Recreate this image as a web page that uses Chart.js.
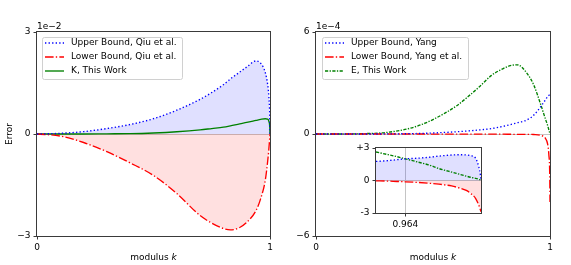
<!DOCTYPE html>
<html><head><meta charset="utf-8">
<script src="https://cdn.jsdelivr.net/npm/chart.js@4/dist/chart.umd.min.js"></script>
<style>
html,body{margin:0;padding:0;background:#fff;}
#wrap{position:relative;width:571px;height:265px;overflow:hidden;background:#fff;}
canvas{position:absolute;}
</style></head><body>
<div id="wrap">
<canvas id="cL" width="290" height="265" style="left:0;top:0;width:290px;height:265px"></canvas>
<canvas id="cR" width="281" height="265" style="left:290px;top:0;width:281px;height:265px"></canvas>
<canvas id="cI" width="165" height="100" style="left:330px;top:135px;width:165px;height:100px"></canvas>
</div>
<script>
// ---------- data (left panel, units of 1e-2) ----------
const kLeft      = [0, 0.1, 0.2, 0.3, 0.4, 0.5, 0.6, 0.7, 0.75, 0.8, 0.83, 0.87, 0.9, 0.94, 0.96, 0.98, 0.99, 0.995, 0.999, 1];
const upperQiu   = [0, 0.02, 0.07, 0.16, 0.28, 0.45, 0.70, 1.02, 1.22, 1.45, 1.62, 1.82, 1.97, 2.15, 2.08, 1.80, 1.45, 1.10, 0.50, 0];
const lowerQiu   = [0, -0.06, -0.25, -0.52, -0.85, -1.22, -1.75, -2.40, -2.62, -2.78, -2.82, -2.75, -2.60, -2.25, -1.90, -1.35, -0.80, -0.45, -0.10, 0];
const kThisWork  = [0, 0, 0, 0.005, 0.01, 0.03, 0.065, 0.12, 0.16, 0.20, 0.24, 0.30, 0.34, 0.40, 0.43, 0.45, 0.44, 0.38, 0.20, 0];

// ---------- data (right panel, units of 1e-4) ----------
const kRight     = [0, 0.1, 0.2, 0.3, 0.4, 0.45, 0.5, 0.6, 0.65, 0.7, 0.75, 0.8, 0.83, 0.86, 0.9, 0.93, 0.96, 0.98, 0.99, 0.995, 0.999, 1];
const upperYang  = [0, 0, 0, 0.005, 0.02, 0.035, 0.06, 0.13, 0.18, 0.24, 0.32, 0.45, 0.55, 0.66, 0.82, 1.10, 1.60, 2.00, 2.20, 2.27, 2.30, 2.30];
const lowerYang  = [0, 0, 0, 0, 0, 0, -0.005, -0.005, -0.01, -0.01, -0.01, -0.01, -0.015, -0.02, -0.02, -0.03, -0.08, -0.25, -0.60, -1.20, -2.50, -4.00];
const eThisWork  = [0, 0, 0.02, 0.09, 0.33, 0.55, 0.85, 1.65, 2.20, 2.80, 3.45, 3.85, 4.02, 4.07, 3.60, 2.90, 1.75, 0.90, 0.50, 0.25, 0.05, 0];

// ---------- data (inset, units of 1e-4) ----------
const kInset         = [0.95, 0.955, 0.96, 0.964, 0.97, 0.975, 0.98, 0.9826, 0.986, 0.99, 0.993, 0.995, 0.9974, 0.9989, 0.9997, 1];
const upperYangInset = [1.76, 1.82, 1.92, 2.00, 2.06, 2.14, 2.25, 2.30, 2.35, 2.38, 2.36, 2.30, 2.07, 1.30, 0.53, 0.05];
const lowerYangInset = [-0.03, -0.05, -0.09, -0.12, -0.18, -0.25, -0.34, -0.40, -0.50, -0.71, -0.92, -1.18, -1.64, -2.26, -2.70, -2.88];
const eThisWorkInset = [2.63, 2.42, 2.20, 2.00, 1.70, 1.45, 1.10, 0.95, 0.78, 0.56, 0.40, 0.30, 0.20, 0.12, 0.07, 0.05];

// ---------- ticks ----------
const xTicksMain  = [0, 1];
const yTicksLeft  = [-3, 0, 3];
const yTicksRight = [-6, 0, 6];
const xTicksInset = [0.964];
const yTicksInset = [-3, 0, 3];
const yTickLabelsInset = ['-3', '0', '+3'];

Chart.defaults.font.family = "'DejaVu Sans', sans-serif";
Chart.defaults.font.size = 9;
Chart.defaults.color = '#000';

const LW = 1.35;
const DOT = [1.35, 2.2];
const DASHDOT = [8.6, 2.2, 1.35, 2.2];
const DASHDOT2 = [3.2, 1.4, 1.3, 1.4];
const SPINE = '#3a3a3a';
const ZERO = '#c4c4c4';

function pts(xs, ys) { return xs.map((x, i) => ({x: x, y: ys[i]})); }
function line(label, xs, ys, color, dash, fill, fillColor) {
  return {
    label, data: pts(xs, ys), borderColor: color, borderWidth: LW, borderDash: dash,
    pointRadius: 0, cubicInterpolationMode: 'monotone',
    fill: fill ? 'origin' : false, backgroundColor: fillColor || 'rgba(0,0,0,0)'
  };
}

const decor = {
  id: 'decor',
  beforeDraw(chart, args, o) {
    if (o.bg) {
      const a = chart.chartArea, ctx = chart.ctx;
      ctx.save(); ctx.fillStyle = '#fff';
      ctx.fillRect(a.left, a.top, a.right - a.left, a.bottom - a.top);
      ctx.restore();
    }
  },
  afterDraw(chart, args, o) {
    const ctx = chart.ctx, a = chart.chartArea;
    ctx.save();
    ctx.strokeStyle = SPINE; ctx.lineWidth = 1; ctx.setLineDash([]);
    ctx.strokeRect(Math.round(a.left) - 0.5, Math.round(a.top) - 0.5,
                   Math.round(a.right) - Math.round(a.left) + 1, Math.round(a.bottom) - Math.round(a.top) + 1);
    ctx.fillStyle = '#000';
    ctx.font = "9px 'DejaVu Sans'";
    if (o.offset) {
      ctx.textAlign = 'left'; ctx.textBaseline = 'alphabetic';
      ctx.fillText(o.offset, a.left, a.top - 3);
    }
    if (o.xtitle) {
      const t1 = 'modulus ', t2 = 'k';
      ctx.font = "9px 'DejaVu Sans'";
      const w1 = ctx.measureText(t1).width;
      ctx.font = "italic 9px 'DejaVu Sans'";
      const w2 = ctx.measureText(t2).width;
      const x0 = (a.left + a.right) / 2 - (w1 + w2) / 2;
      ctx.textBaseline = 'middle'; ctx.textAlign = 'left';
      ctx.font = "9px 'DejaVu Sans'";
      ctx.fillText(t1, x0, 257.5);
      ctx.font = "italic 9px 'DejaVu Sans'";
      ctx.fillText(t2, x0 + w1, 257.5);
    }
    if (o.ytitle) {
      ctx.font = "9px 'DejaVu Sans'";
      ctx.translate(10, (a.top + a.bottom) / 2);
      ctx.rotate(-Math.PI / 2);
      ctx.textAlign = 'center'; ctx.textBaseline = 'middle';
      ctx.fillText(o.ytitle, 0, 0);
      ctx.setTransform(1, 0, 0, 1, 0, 0);
    }
    if (o.legend) {
      const L = o.legend;
      ctx.beginPath();
      ctx.roundRect(L.x + 0.5, L.y + 0.5, L.w, L.h, 2);
      ctx.fillStyle = 'rgba(255,255,255,0.85)';
      ctx.fill();
      ctx.strokeStyle = '#d0d0d0'; ctx.lineWidth = 1;
      ctx.stroke();
      chart.data.datasets.forEach((ds, i) => {
        const cy = L.y + 6 + i * 14;
        ctx.beginPath();
        ctx.setLineDash(ds.borderDash || []);
        ctx.strokeStyle = ds.borderColor; ctx.lineWidth = LW;
        ctx.moveTo(L.x + 3, cy); ctx.lineTo(L.x + 22, cy);
        ctx.stroke();
        ctx.setLineDash([]);
        ctx.fillStyle = '#000';
        ctx.font = "9px 'DejaVu Sans'";
        ctx.textAlign = 'left'; ctx.textBaseline = 'middle';
        ctx.fillText(ds.label, L.x + 29, cy);
      });
    }
    ctx.restore();
  }
};

function scales(o) {
  return {
    x: {
      type: 'linear', min: o.xmin, max: o.xmax,
      afterBuildTicks: s => { s.ticks = o.xt.map(v => ({value: v})); },
      afterFit: s => { s.height = o.xh; },
      grid: {
        color: c => (o.xGray != null && c.tick && Math.abs(c.tick.value - o.xGray) < 1e-9) ? ZERO : 'rgba(0,0,0,0)',
        tickColor: SPINE, tickLength: 3.5, lineWidth: 1
      },
      border: {display: false},
      ticks: {padding: 2.5, maxRotation: 0, autoSkip: false, color: '#000', callback: v => String(v)}
    },
    y: {
      type: 'linear', min: o.ymin, max: o.ymax,
      afterBuildTicks: s => { s.ticks = o.yt.map(v => ({value: v})); },
      afterFit: s => { s.width = o.yw; },
      grid: {
        color: c => (c.tick && c.tick.value === 0) ? ZERO : 'rgba(0,0,0,0)',
        tickColor: SPINE, tickLength: 3.5, lineWidth: 1
      },
      border: {display: false},
      ticks: {padding: 3, autoSkip: false, color: '#000', callback: o.ylab}
    }
  };
}

const minusFmt = v => v < 0 ? '\u2212' + Math.abs(v) : String(v);

function common(extra) {
  return Object.assign({
    responsive: false, animation: false, devicePixelRatio: 1,
    events: [],
    plugins: {legend: {display: false}, tooltip: {enabled: false}, filler: {drawTime: 'beforeDatasetsDraw'}}
  }, extra);
}

// Left panel
new Chart(document.getElementById('cL'), {
  type: 'line',
  data: {datasets: [
    line('Upper Bound, Qiu et al.', kLeft, upperQiu, '#0000ff', DOT, true, 'rgba(0,0,255,0.12)'),
    line('Lower Bound, Qiu et al.', kLeft, lowerQiu, '#ff0000', DASHDOT, true, 'rgba(255,0,0,0.12)'),
    line('K, This Work', kLeft, kThisWork, '#008000', [], false)
  ]},
  options: (() => { const c = common({
    layout: {padding: {left: 0, right: 20, top: 32, bottom: 0}},
    scales: scales({xmin: 0, xmax: 1, xt: xTicksMain, xh: 29, ymin: -3, ymax: 3, yt: yTicksLeft, yw: 37, ylab: minusFmt})
  }); c.plugins.decor = {offset: '1e\u22122', xtitle: true, ytitle: 'Error', legend: {x: 42, y: 37, w: 140, h: 42}}; return c; })(),
  plugins: [decor]
});

// Right panel
new Chart(document.getElementById('cR'), {
  type: 'line',
  data: {datasets: [
    line('Upper Bound, Yang', kRight, upperYang, '#0000ff', DOT, false),
    line('Lower Bound, Yang et al.', kRight, lowerYang, '#ff0000', DASHDOT, false),
    line('E, This Work', kRight, eThisWork, '#008000', DASHDOT2, false)
  ]},
  options: (() => { const c = common({
    layout: {padding: {left: 0, right: 21, top: 32, bottom: 0}},
    scales: scales({xmin: 0, xmax: 1, xt: xTicksMain, xh: 29, ymin: -6, ymax: 6, yt: yTicksRight, yw: 26, ylab: minusFmt})
  }); c.plugins.decor = {offset: '1e\u22124', xtitle: true, legend: {x: 32, y: 37, w: 146, h: 42}}; return c; })(),
  plugins: [decor]
});

// Inset
new Chart(document.getElementById('cI'), {
  type: 'line',
  data: {datasets: [
    line('Upper Bound, Yang', kInset, upperYangInset, '#0000ff', DOT, true, 'rgba(0,0,255,0.12)'),
    line('Lower Bound, Yang et al.', kInset, lowerYangInset, '#ff0000', DASHDOT, true, 'rgba(255,0,0,0.12)'),
    line('E, This Work', kInset, eThisWorkInset, '#008000', DASHDOT2, false)
  ]},
  options: (() => { const c = common({
    layout: {padding: {left: 0, right: 14, top: 13, bottom: 0}},
    scales: scales({xmin: 0.95, xmax: 1, xt: xTicksInset, xh: 22, xGray: 0.964, ymin: -3, ymax: 3, yt: yTicksInset, yw: 46,
      ylab: (v) => yTickLabelsInset[yTicksInset.indexOf(v)]})
  }); c.plugins.decor = {bg: true}; return c; })(),
  plugins: [decor]
});
</script>
</body></html>
